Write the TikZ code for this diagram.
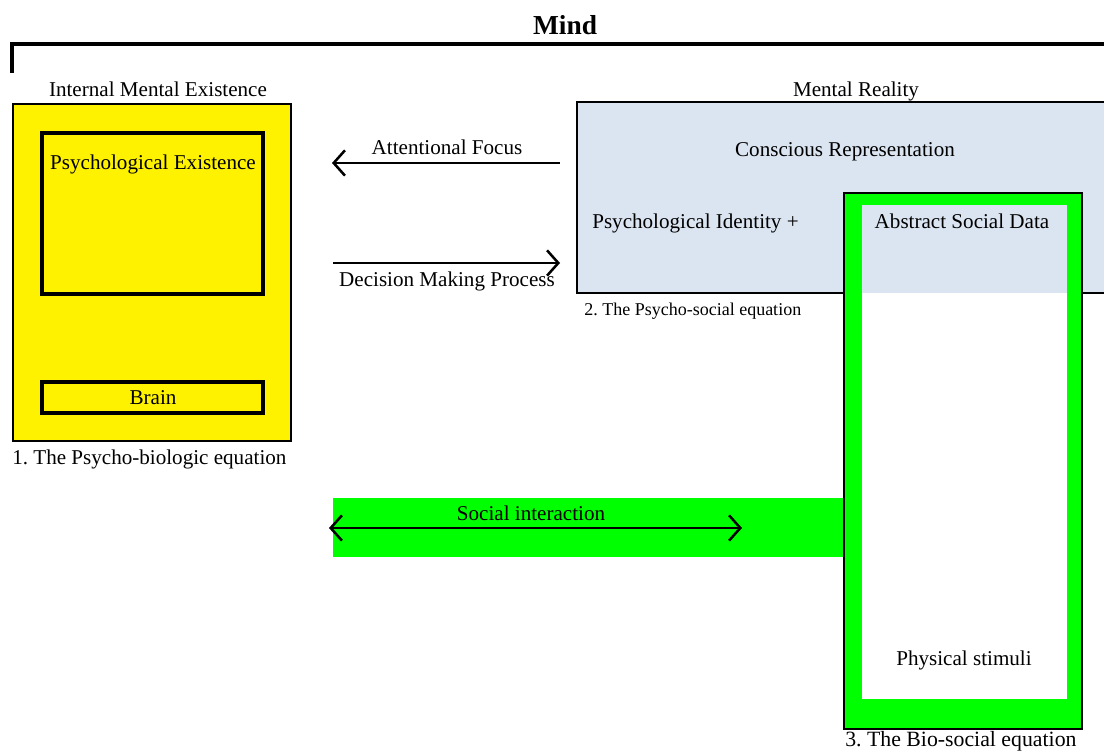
\documentclass[tikz,border=0pt]{standalone}
\usepackage{fontspec}
\setmainfont{Liberation Serif}
\usetikzlibrary{arrows.meta}
\definecolor{paleblue}{HTML}{DBE5F1}
\definecolor{brightgreen}{HTML}{00FF00}
\frenchspacing

\begin{document}
\begin{tikzpicture}[x=0.025cm, y=-0.025cm,
    every node/.style={font=\fontsize{15}{18}\selectfont, inner sep=0pt, anchor=base},
    caption/.style={anchor=base west},
    barb/.tip={Straight Barb[length=8pt, width=18pt, line width=1.8pt]},
    flow/.style={line width=1.8pt, -barb},
    duo/.style={line width=1.8pt, barb-barb}]
  \useasboundingbox (0,0) rectangle (1104,753);

  % the mind bracket
  \node[font=\bfseries\fontsize{19.5}{22}\selectfont] (mind) at (565,35) {Mind};
  \draw[line width=2.3pt] (12,73) -- (12,44) -- (1110,44);

  % 1. psycho-biologic
  \node (inner) at (158,97) {Internal Mental Existence};
  \draw[fill=yellow, line width=0.9pt] (13,104) rectangle (291,441);
  \draw[line width=2.2pt] (42,133) rectangle (263,294);
  \draw[line width=2.2pt] (42,382) rectangle (263,413);
  \node (psyex) at (153,170) {Psychological Existence};
  \node (brain) at (153,405) {Brain};
  \node[caption] (cap1) at (12,464) {1. The Psycho-biologic equation};

  % 2. psycho-social
  \node (reality) at (856,97) {Mental Reality};
  \draw[fill=paleblue, line width=1.4pt] (577,102) rectangle (1110,293);
  \node (consc) at (845,157) {Conscious Representation};
  \node[caption] (ident) at (592,229) {Psychological Identity +};
  \node[caption, font=\fontsize{12.8}{15}\selectfont] (cap2) at (584,316) {2. The Psycho-social equation};

  % 3. bio-social
  \fill[brightgreen] (333,498) rectangle (844,557);
  \draw[fill=brightgreen, line width=0.9pt] (844,193) rectangle (1082,729);
  \fill[paleblue] (862,205) rectangle (1067,293);
  \fill[white] (862,293) rectangle (1067,699);
  \node (abstract) at (962,229) {Abstract Social Data};
  \node (stimuli) at (964,665) {Physical stimuli};
  \node[caption, font=\fontsize{15.5}{18}\selectfont] (cap3) at (845,746) {3. The Bio-social equation};

  % connectors
  \coordinate (focus-a) at (560,163);
  \coordinate (focus-b) at (332,163);
  \coordinate (decide-a) at (333,263);
  \coordinate (decide-b) at (560,263);
  \coordinate (social-a) at (329,528);
  \coordinate (social-b) at (742,528);
  \draw[flow] (focus-a) -- (focus-b);
  \draw[flow] (decide-a) -- (decide-b);
  \draw[duo] (social-a) -- (social-b);
  \node (focus) at (447,155) {Attentional Focus};
  \node (decide) at (447,287) {Decision Making Process};
  \node (social) at (531,520) {Social interaction};
\end{tikzpicture}
\end{document}
